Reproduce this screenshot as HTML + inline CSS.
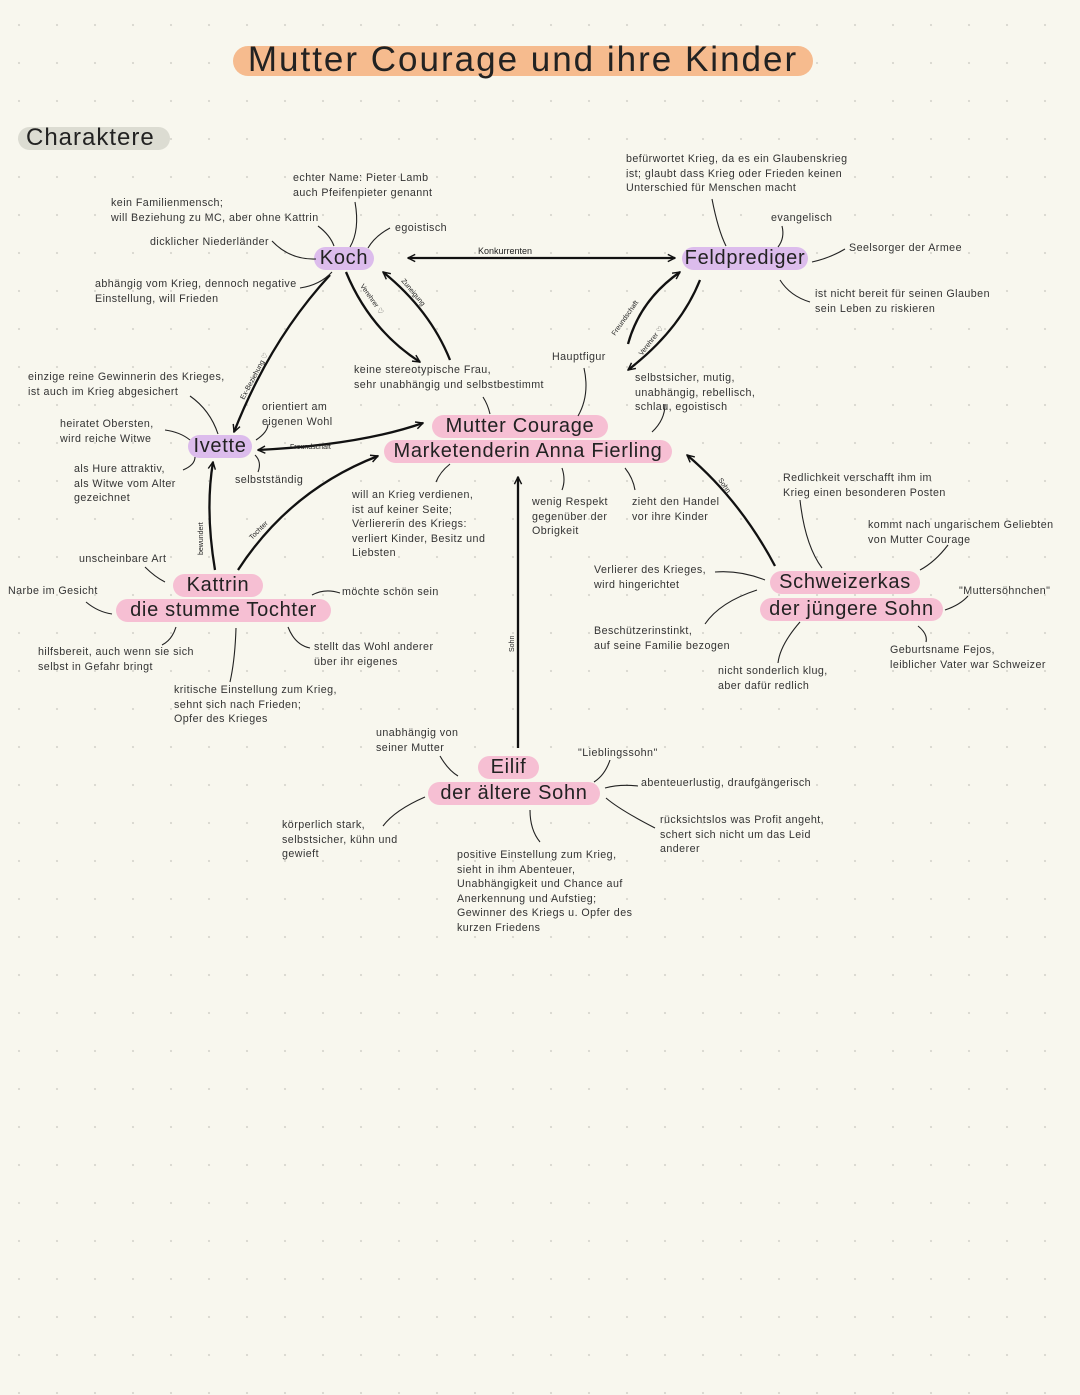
<!DOCTYPE html>
<html><head><meta charset="utf-8">
<style>
html,body{margin:0;padding:0}
body{width:1080px;height:1395px;position:relative;overflow:hidden;background-color:#f8f7ee;
background-image:radial-gradient(circle,#d9d9d0 1px,transparent 1.3px);background-size:38px 38px;background-position:0 6px;
font-family:"Liberation Sans",sans-serif;color:#2a2a2a}
.t{position:absolute;font-size:10.7px;line-height:14.5px;white-space:nowrap;color:#333;letter-spacing:0.45px}
.n{position:absolute;white-space:nowrap;border-radius:12px;font-size:20px;line-height:23px;text-align:center;letter-spacing:0.7px;color:#222}
.p{background:#f6bfd3}.v{background:#dcbcec}
svg{position:absolute;left:0;top:0}
.s{font-size:7px;font-family:"Liberation Sans",sans-serif;fill:#222}
</style></head><body>
<div class="n" style="left:233px;top:46px;width:580px;height:30px;background:#f6bb8e;border-radius:15px"></div>
<div style="position:absolute;left:233px;top:40px;width:580px;text-align:center;font-size:35px;letter-spacing:2px;color:#222">Mutter Courage und ihre Kinder</div>
<div class="n" style="left:18px;top:127px;width:152px;height:23px;background:#dcdcd2;font-size:24px;line-height:22px;text-align:left;padding-left:8px;box-sizing:border-box;letter-spacing:1px">Charaktere</div>

<div class="n v" style="left:314px;top:247px;width:60px">Koch</div>
<div class="n v" style="left:682px;top:247px;width:126px">Feldprediger</div>
<div class="n v" style="left:188px;top:435px;width:64px">Ivette</div>
<div class="n p" style="left:432px;top:415px;width:176px">Mutter Courage</div>
<div class="n p" style="left:384px;top:440px;width:288px">Marketenderin Anna Fierling</div>
<div class="n p" style="left:173px;top:574px;width:90px">Kattrin</div>
<div class="n p" style="left:116px;top:599px;width:215px">die stumme Tochter</div>
<div class="n p" style="left:770px;top:571px;width:150px">Schweizerkas</div>
<div class="n p" style="left:760px;top:598px;width:183px">der jüngere Sohn</div>
<div class="n p" style="left:478px;top:756px;width:61px">Eilif</div>
<div class="n p" style="left:428px;top:782px;width:172px">der ältere Sohn</div>

<div class="t" style="left:293px;top:171px">echter Name: Pieter Lamb<br>auch Pfeifenpieter genannt</div>
<div class="t" style="left:111px;top:196px">kein Familienmensch;<br>will Beziehung zu MC, aber ohne Kattrin</div>
<div class="t" style="left:395px;top:221px">egoistisch</div>
<div class="t" style="left:150px;top:235px">dicklicher Niederländer</div>
<div class="t" style="left:95px;top:277px">abhängig vom Krieg, dennoch negative<br>Einstellung, will Frieden</div>
<div class="t" style="left:626px;top:152px">befürwortet Krieg, da es ein Glaubenskrieg<br>ist; glaubt dass Krieg oder Frieden keinen<br>Unterschied für Menschen macht</div>
<div class="t" style="left:771px;top:211px">evangelisch</div>
<div class="t" style="left:849px;top:241px">Seelsorger der Armee</div>
<div class="t" style="left:815px;top:287px">ist nicht bereit für seinen Glauben<br>sein Leben zu riskieren</div>
<div class="t" style="left:28px;top:370px">einzige reine Gewinnerin des Krieges,<br>ist auch im Krieg abgesichert</div>
<div class="t" style="left:60px;top:417px">heiratet Obersten,<br>wird reiche Witwe</div>
<div class="t" style="left:262px;top:400px">orientiert am<br>eigenen Wohl</div>
<div class="t" style="left:74px;top:462px">als Hure attraktiv,<br>als Witwe vom Alter<br>gezeichnet</div>
<div class="t" style="left:235px;top:473px">selbstständig</div>
<div class="t" style="left:354px;top:363px">keine stereotypische Frau,<br>sehr unabhängig und selbstbestimmt</div>
<div class="t" style="left:552px;top:350px">Hauptfigur</div>
<div class="t" style="left:635px;top:371px">selbstsicher, mutig,<br>unabhängig, rebellisch,<br>schlau, egoistisch</div>
<div class="t" style="left:352px;top:488px">will an Krieg verdienen,<br>ist auf keiner Seite;<br>Verliererin des Kriegs:<br>verliert Kinder, Besitz und<br>Liebsten</div>
<div class="t" style="left:532px;top:495px">wenig Respekt<br>gegenüber der<br>Obrigkeit</div>
<div class="t" style="left:632px;top:495px">zieht den Handel<br>vor ihre Kinder</div>
<div class="t" style="left:783px;top:471px">Redlichkeit verschafft ihm im<br>Krieg einen besonderen Posten</div>
<div class="t" style="left:868px;top:518px">kommt nach ungarischem Geliebten<br>von Mutter Courage</div>
<div class="t" style="left:594px;top:563px">Verlierer des Krieges,<br>wird hingerichtet</div>
<div class="t" style="left:959px;top:584px">"Muttersöhnchen"</div>
<div class="t" style="left:594px;top:624px">Beschützerinstinkt,<br>auf seine Familie bezogen</div>
<div class="t" style="left:890px;top:643px">Geburtsname Fejos,<br>leiblicher Vater war Schweizer</div>
<div class="t" style="left:718px;top:664px">nicht sonderlich klug,<br>aber dafür redlich</div>
<div class="t" style="left:79px;top:552px">unscheinbare Art</div>
<div class="t" style="left:8px;top:584px">Narbe im Gesicht</div>
<div class="t" style="left:342px;top:585px">möchte schön sein</div>
<div class="t" style="left:38px;top:645px">hilfsbereit, auch wenn sie sich<br>selbst in Gefahr bringt</div>
<div class="t" style="left:314px;top:640px">stellt das Wohl anderer<br>über ihr eigenes</div>
<div class="t" style="left:174px;top:683px">kritische Einstellung zum Krieg,<br>sehnt sich nach Frieden;<br>Opfer des Krieges</div>
<div class="t" style="left:376px;top:726px">unabhängig von<br>seiner Mutter</div>
<div class="t" style="left:578px;top:746px">"Lieblingssohn"</div>
<div class="t" style="left:641px;top:776px">abenteuerlustig, draufgängerisch</div>
<div class="t" style="left:660px;top:813px">rücksichtslos was Profit angeht,<br>schert sich nicht um das Leid<br>anderer</div>
<div class="t" style="left:282px;top:818px">körperlich stark,<br>selbstsicher, kühn und<br>gewieft</div>
<div class="t" style="left:457px;top:848px">positive Einstellung zum Krieg,<br>sieht in ihm Abenteuer,<br>Unabhängigkeit und Chance auf<br>Anerkennung und Aufstieg;<br>Gewinner des Kriegs u. Opfer des<br>kurzen Friedens</div>

<svg width="1080" height="1395" viewBox="0 0 1080 1395">
<defs><marker id="a" viewBox="0 0 10 10" refX="9" refY="5" markerWidth="9" markerHeight="9" orient="auto-start-reverse" markerUnits="userSpaceOnUse"><path d="M1 1 L9 5 L1 9" fill="none" stroke="#111" stroke-width="1.6"/></marker></defs>
<g fill="none" stroke="#111" stroke-width="2.3">
<path d="M408 258 L675 258" marker-start="url(#a)" marker-end="url(#a)"/>
<path d="M330 275 Q270 340 234 432" marker-end="url(#a)"/>
<path d="M346 272 Q370 330 420 362" marker-end="url(#a)"/>
<path d="M450 360 Q430 310 383 272" marker-end="url(#a)"/>
<path d="M628 344 Q640 300 680 272" marker-end="url(#a)"/>
<path d="M700 280 Q680 330 628 370" marker-end="url(#a)"/>
<path d="M258 450 Q360 445 423 423" marker-start="url(#a)" marker-end="url(#a)"/>
<path d="M238 570 Q290 490 378 456" marker-end="url(#a)"/>
<path d="M215 570 Q205 510 213 462" marker-end="url(#a)"/>
<path d="M518 748 L518 477" marker-end="url(#a)"/>
<path d="M775 566 Q740 500 687 455" marker-end="url(#a)"/>
</g>
<g fill="none" stroke="#222" stroke-width="1.1">
<path d="M355 202 Q360 230 350 247"/><path d="M318 226 Q330 235 334 246"/><path d="M390 228 Q375 236 368 248"/>
<path d="M272 241 Q290 260 316 259"/><path d="M300 288 Q320 285 332 272"/>
<path d="M712 199 Q718 230 726 246"/><path d="M782 226 Q785 238 778 247"/><path d="M845 249 Q830 258 812 262"/><path d="M780 280 Q790 296 810 302"/>
<path d="M190 396 Q210 410 218 434"/><path d="M165 430 Q180 432 190 440"/><path d="M183 470 Q195 465 195 457"/><path d="M256 440 Q268 432 268 424"/><path d="M255 455 Q262 462 258 472"/>
<path d="M483 397 Q488 405 490 414"/><path d="M584 368 Q590 395 578 416"/><path d="M665 404 Q665 420 652 432"/>
<path d="M450 464 Q440 472 436 482"/><path d="M562 468 Q566 480 562 490"/><path d="M625 468 Q633 478 635 490"/>
<path d="M800 500 Q805 545 822 568"/><path d="M948 545 Q935 562 920 570"/><path d="M715 572 Q740 570 765 580"/><path d="M757 590 Q720 602 705 624"/><path d="M945 610 Q960 605 968 596"/><path d="M800 622 Q780 645 778 663"/><path d="M918 626 Q928 634 926 642"/>
<path d="M145 567 Q155 577 165 582"/><path d="M86 602 Q98 612 112 614"/><path d="M340 593 Q325 588 312 595"/><path d="M176 627 Q172 640 162 645"/><path d="M236 628 Q235 660 230 682"/><path d="M288 627 Q295 645 310 648"/>
<path d="M440 756 Q448 770 458 776"/><path d="M610 760 Q605 775 594 782"/><path d="M638 786 Q620 784 605 788"/><path d="M655 828 Q620 810 606 798"/><path d="M425 797 Q395 810 383 826"/><path d="M530 810 Q530 830 540 842"/>
</g>
<g class="s">
<text x="478" y="254" font-size="9">Konkurrenten</text>
<text x="290" y="449" font-size="7">Freundschaft</text>
<text transform="translate(244 400) rotate(-62)">Ex-Beziehung ♡</text>
<text transform="translate(360 286) rotate(55)">Verehrer ♡</text>
<text transform="translate(401 281) rotate(50)">Zuneigung</text>
<text transform="translate(615 336) rotate(-55)">Freundschaft</text>
<text transform="translate(642 356) rotate(-52)">Verehrer ♡</text>
<text transform="translate(203 555) rotate(-90)">bewundert</text>
<text transform="translate(252 540) rotate(-45)">Tochter</text>
<text transform="translate(514 652) rotate(-90)">Sohn</text>
<text transform="translate(718 480) rotate(55)">Sohn</text>
</g>
</svg>
</body></html>
